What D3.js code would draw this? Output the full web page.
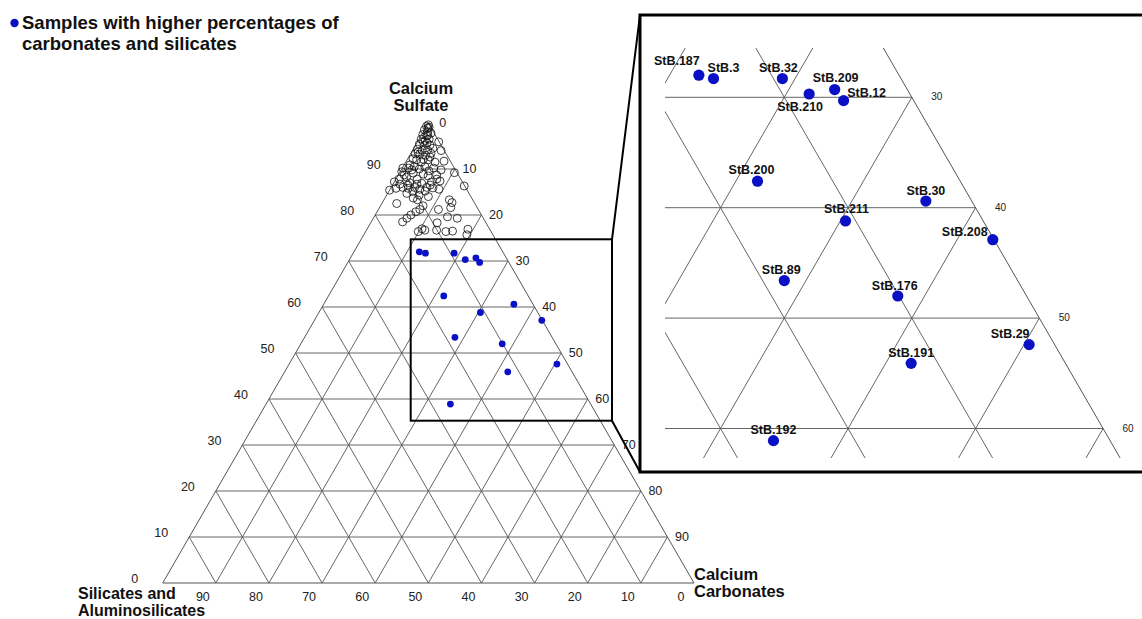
<!DOCTYPE html>
<html>
<head>
<meta charset="utf-8">
<script src="https://cdn.jsdelivr.net/npm/d3@7"></script>
<style>
  body { margin: 0; background: #fff; }
  svg { display: block; font-family: "Liberation Sans", Arial, sans-serif; }
</style>
</head>
<body>
<svg id="chart" width="1142" height="619"></svg>
<script>
// ---- data (percent) ----
const tickValues = [0, 10, 20, 30, 40, 50, 60, 70, 80, 90];

// highlighted samples: higher carbonates + silicates
const sampleNames     = ['StB.187', 'StB.3', 'StB.32', 'StB.210', 'StB.209', 'StB.12', 'StB.200', 'StB.30',
                         'StB.211', 'StB.208', 'StB.89', 'StB.176', 'StB.29', 'StB.191', 'StB.192'];
const sampleSulfate   = [72.0, 71.7, 71.7, 70.3, 70.7, 69.7, 62.4, 60.6, 58.8, 57.1, 53.4, 52.0, 47.6, 45.9, 38.9];
const sampleCarbonate = [12.3, 13.6, 19.0, 21.8, 23.6, 24.8, 21.7, 35.8, 30.4, 42.8, 28.3, 37.9, 50.4, 42.0, 34.7];
const sampleSilicate  = [15.7, 14.7,  9.3,  7.9,  5.7,  5.5, 15.9,  3.6, 10.8,  0.1, 18.3, 10.1,  2.0, 12.1, 26.4];

// remaining samples [sulfate, carbonate, silicate]
const otherSamples = [
  [99.6, 0.2, 0.2], [99.3, 0.0, 0.7], [99.1, 0.6, 0.3], [98.5, 0.0, 1.5], [98.1, 0.8, 1.1],
  [97.5, 0.2, 2.3], [97.2, 1.1, 1.7], [97.8, 1.6, 0.6], [96.5, 0.4, 3.1], [96.2, 1.3, 2.5],
  [96.5, 1.9, 1.6], [95.9, 4.0, 0.1], [95.4, 0.6, 4.0], [95.1, 1.7, 3.2], [95.2, 2.7, 2.1],
  [94.3, 0.8, 4.9], [94.1, 1.8, 4.1], [94.1, 2.8, 3.1], [94.5, 3.6, 1.9], [94.0, 5.4, 0.6],
  [93.3, 0.9, 5.8], [93.2, 1.8, 5.0], [93.0, 3.0, 4.0], [93.4, 3.8, 2.8], [92.2, 1.0, 6.8],
  [92.0, 1.8, 6.2], [92.1, 3.0, 4.9], [92.0, 4.0, 4.0], [90.9, 1.1, 8.0], [90.2, 0.1, 9.7],
  [90.2, 1.2, 8.6], [90.5, 2.1, 7.4], [90.0, 3.3, 6.7], [90.5, 4.1, 5.4], [90.2, 5.9, 3.9],
  [89.8, 7.5, 2.7], [89.2, 10.3, 0.5], [89.4, 0.3, 10.3], [89.1, 2.6, 8.3], [88.9, 4.6, 6.5],
  [88.5, 5.7, 5.8], [88.7, 7.2, 4.1], [87.8, 0.6, 11.6], [88.2, 1.8, 10.0], [87.8, 4.0, 8.2],
  [87.2, 0.0, 12.8], [87.0, 3.0, 10.0], [86.9, 5.3, 7.8], [87.2, 7.0, 5.8], [87.4, 8.5, 4.1],
  [86.3, 13.6, 0.1], [85.4, 0.0, 14.6], [85.8, 1.0, 13.2], [86.0, 2.2, 11.8], [85.8, 3.3, 10.9],
  [86.0, 4.4, 9.6], [85.6, 5.6, 8.8], [86.0, 6.7, 7.3], [85.6, 9.2, 5.2], [84.7, 3.6, 11.7],
  [85.1, 4.5, 10.4], [84.0, 8.0, 8.0], [83.3, 12.3, 4.4], [82.7, 13.1, 4.2], [82.5, 2.8, 14.7],
  [83.3, 6.3, 10.4], [82.0, 8.0, 10.0], [81.2, 7.8, 11.0], [80.7, 7.3, 12.0], [80.0, 6.7, 13.3],
  [79.3, 6.3, 14.4], [78.5, 5.9, 15.6], [81.2, 11.3, 7.5], [81.6, 13.4, 5.0], [79.6, 13.8, 6.6],
  [79.3, 15.8, 4.9], [77.0, 10.3, 12.7], [76.7, 11.0, 12.3], [76.4, 9.9, 13.7], [76.7, 13.2, 10.1],
  [76.4, 15.1, 8.5], [76.5, 16.3, 7.2], [76.9, 19.0, 4.1], [75.7, 19.4, 4.9], [78.3, 12.5, 9.2],
  [98.9, 0.5, 0.6], [97.4, 1.2, 1.4], [95.9, 1.1, 3.0], [95.7, 1.9, 2.4], [93.7, 1.2, 5.1],
  [92.6, 4.0, 3.4], [91.5, 2.9, 5.6], [89.8, 2.0, 8.2], [88.7, 1.1, 10.2], [89.6, 5.3, 5.1],
  [91.5, 5.5, 3.0], [91.7, 7.1, 1.2], [86.5, 2.9, 10.6], [86.7, 4.5, 8.8], [85.2, 6.8, 8.0],
  [85.9, 7.9, 6.2], [86.7, 1.3, 12.0], [84.3, 6.1, 9.6], [83.7, 5.3, 11.0], [86.5, 7.1, 6.4],
  [87.8, 7.7, 4.5]
];

// label placement in the zoomed panel (dx, dy from the dot)
const labelNudge = {
  'StB.187': [-22, -10], 'StB.3': [10, -6.5], 'StB.32': [-4, -7], 'StB.210': [-9, 17.5],
  'StB.209': [1, -7.5], 'StB.12': [23, -4], 'StB.200': [-6, -7.5], 'StB.30': [0, -6],
  'StB.211': [1, -7.5], 'StB.208': [-28, -3.5], 'StB.89': [-3, -7], 'StB.176': [-3, -6],
  'StB.29': [-19, -7], 'StB.191': [0, -6], 'StB.192': [0, -7]
};

const BLUE = '#0a10c4';
const GRID = '#555';

const svg = d3.select('#chart');

// main triangle scales: x over (carbonate + sulfate/2), y over sulfate
const x = d3.scaleLinear().domain([0, 100]).range([162.7, 694]);
const y = d3.scaleLinear().domain([0, 100]).range([583, 123]);

// zoomed panel: same triangle, magnified
const K = 2.4, DX = -307.5, DY = -529.1;
const xi = d3.scaleLinear().domain([0, 100]).range(x.range().map(v => v * K + DX));
const yi = d3.scaleLinear().domain([0, 100]).range(y.range().map(v => v * K + DY));

const project = (sx, sy) => (s, c) => [sx(c + s / 2), sy(s)];
const pMain = project(x, y);
const pInset = project(xi, yi);

const line = d3.line();

function drawGrid(g, p) {
  const segs = [];
  for (let k = 10; k < 100; k += 10) {
    segs.push([p(k, 0), p(k, 100 - k)]);          // constant sulfate
    segs.push([p(0, k), p(100 - k, k)]);          // constant carbonate
    segs.push([p(0, 100 - k), p(100 - k, 0)]);    // constant silicate
  }
  g.append('g').selectAll('path').data(segs).join('path')
    .attr('d', d => line(d))
    .attr('fill', 'none').attr('stroke', GRID).attr('stroke-width', 0.9);
  g.append('path')
    .attr('d', line([p(0, 0), p(0, 100), p(100, 0)]) + 'Z')
    .attr('fill', 'none').attr('stroke', GRID).attr('stroke-width', 1);
}

// ---- main ternary ----
const main = svg.append('g');
drawGrid(main, pMain);

// left axis (sulfate)
main.append('g').selectAll('text').data(tickValues).join('text')
  .attr('x', d => pMain(d, 0)[0] - 28)
  .attr('y', d => pMain(d, 0)[1])
  .attr('text-anchor', 'middle').attr('font-size', 12.5).attr('fill', '#222')
  .text(d => d);

// right axis (carbonate), labels where the sulfate lines meet the edge
main.append('g').selectAll('text').data(tickValues).join('text')
  .attr('x', d => pMain(100 - d, d)[0] + 14.5)
  .attr('y', d => pMain(100 - d, d)[1] + 3.5)
  .attr('text-anchor', 'middle').attr('font-size', 12.5).attr('fill', '#222')
  .text(d => d);

// bottom axis (silicates)
main.append('g').selectAll('text').data(tickValues.filter(d => d > 0).concat([0])).join('text')
  .attr('x', d => pMain(0, 100 - d)[0] - 13)
  .attr('y', 601)
  .attr('text-anchor', 'middle').attr('font-size', 12.5).attr('fill', '#222')
  .text(d => d);

// open samples
main.append('g').selectAll('circle').data(otherSamples).join('circle')
  .attr('cx', d => pMain(d[0], d[1])[0])
  .attr('cy', d => pMain(d[0], d[1])[1])
  .attr('r', 4).attr('fill', 'none').attr('stroke', '#111').attr('stroke-width', 0.8);

const samples = sampleNames.map((name, i) => ({
  name, s: sampleSulfate[i], c: sampleCarbonate[i], si: sampleSilicate[i]
}));

main.append('g').selectAll('circle').data(samples).join('circle')
  .attr('cx', d => pMain(d.s, d.c)[0])
  .attr('cy', d => pMain(d.s, d.c)[1])
  .attr('r', 3.4).attr('fill', BLUE);

// axis titles
const title = (lines, tx, ty, anchor, gap, size) => {
  const t = svg.append('text').attr('font-weight', 'bold').attr('font-size', size)
    .attr('text-anchor', anchor).attr('fill', '#111');
  lines.forEach((l, i) => t.append('tspan').attr('x', tx).attr('y', ty + i * gap).text(l));
};
title(['Calcium', 'Sulfate'], 421, 94, 'middle', 17, 16.5);
title(['Silicates and', 'Aluminosilicates'], 78, 599, 'start', 16.5, 16);
title(['Calcium', 'Carbonates'], 694, 580, 'start', 17, 16.5);

// ---- zoom box + connectors ----
const box = { x0: 410.7, y0: 239.3, x1: 612, y1: 420.7 };
const panel = { x0: 640, y0: 15, x1: 1150, y1: 472 };

svg.append('rect')
  .attr('x', box.x0).attr('y', box.y0)
  .attr('width', box.x1 - box.x0).attr('height', box.y1 - box.y0)
  .attr('fill', 'none').attr('stroke', '#000').attr('stroke-width', 2);

svg.append('path')
  .attr('d', line([[box.x1, box.y0], [panel.x0, panel.y0]]) + line([[box.x1, box.y1], [panel.x0, panel.y1]]))
  .attr('fill', 'none').attr('stroke', '#000').attr('stroke-width', 2);

// ---- zoomed panel ----
svg.append('rect')
  .attr('x', panel.x0).attr('y', panel.y0)
  .attr('width', panel.x1 - panel.x0).attr('height', panel.y1 - panel.y0)
  .attr('fill', '#fff');

svg.append('clipPath').attr('id', 'inset-clip')
  .append('rect').attr('x', 665).attr('y', 48).attr('width', 480).attr('height', 410);

const inset = svg.append('g').attr('clip-path', 'url(#inset-clip)');
drawGrid(inset, pInset);

svg.append('g').selectAll('text')
  .data(tickValues.filter(d => {
    const py = pInset(100 - d, d)[1];
    return py > 48 && py < 458;
  }))
  .join('text')
  .attr('x', d => pInset(100 - d, d)[0] + 25)
  .attr('y', d => pInset(100 - d, d)[1] + 3)
  .attr('text-anchor', 'middle').attr('font-size', 10).attr('fill', '#222')
  .text(d => d);

svg.append('g').selectAll('circle').data(samples).join('circle')
  .attr('cx', d => pInset(d.s, d.c)[0])
  .attr('cy', d => pInset(d.s, d.c)[1])
  .attr('r', 5.6).attr('fill', BLUE);

svg.append('g').selectAll('text').data(samples).join('text')
  .attr('x', d => pInset(d.s, d.c)[0] + labelNudge[d.name][0])
  .attr('y', d => pInset(d.s, d.c)[1] + labelNudge[d.name][1])
  .attr('text-anchor', 'middle').attr('font-weight', 'bold').attr('font-size', 12.5)
  .attr('fill', '#111')
  .text(d => d.name);

svg.append('rect')
  .attr('x', panel.x0).attr('y', panel.y0)
  .attr('width', panel.x1 - panel.x0).attr('height', panel.y1 - panel.y0)
  .attr('fill', 'none').attr('stroke', '#000').attr('stroke-width', 3);

// ---- legend ----
svg.append('circle').attr('cx', 14.5).attr('cy', 23).attr('r', 4.2).attr('fill', BLUE);
const leg = svg.append('text').attr('font-weight', 'bold').attr('font-size', 18.5).attr('fill', '#111');
leg.append('tspan').attr('x', 22).attr('y', 29).text('Samples with higher percentages of');
leg.append('tspan').attr('x', 22).attr('y', 50).text('carbonates and silicates');
</script>
</body>
</html>
